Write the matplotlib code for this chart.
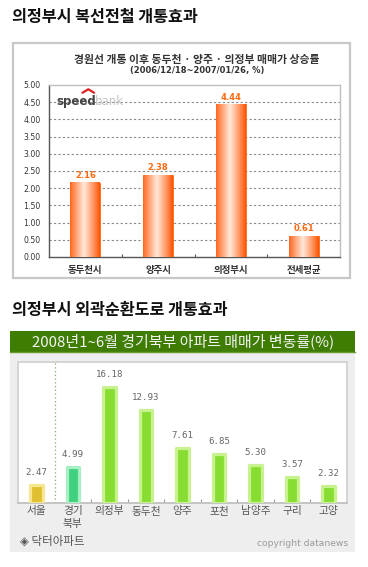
import numpy as np
import matplotlib
matplotlib.use('Agg')
import matplotlib.pyplot as plt
from matplotlib.colors import to_rgb
from matplotlib.patches import Rectangle
from matplotlib.lines import Line2D

plt.rcParams['font.family'] = ['Noto Sans CJK KR', 'DejaVu Sans']

# ---------------- data ----------------
title1 = '의정부시 복선전철 개통효과'
chart1_title = '경원선 개통 이후 동두천 · 양주 · 의정부 매매가 상승률'
chart1_sub = '(2006/12/18~2007/01/26, %)'
cats1 = ['동두천시', '양주시', '의정부시', '전세평균']
vals1 = [2.16, 2.38, 4.44, 0.61]
yticks1 = [0.0, 0.5, 1.0, 1.5, 2.0, 2.5, 3.0, 3.5, 4.0, 4.5, 5.0]

title2 = '의정부시 외곽순환도로 개통효과'
chart2_title = '2008년1~6월 경기북부 아파트 매매가 변동률(%)'
cats2 = ['서울', '경기\n북부', '의정부', '동두천', '양주', '포천', '남양주', '구리', '고양']
vals2 = [2.47, 4.99, 16.18, 12.93, 7.61, 6.85, 5.30, 3.57, 2.32]
source2 = '◈ 닥터아파트'
copyright2 = 'copyright datanews'

# ---------------- figure ----------------
W, H = 368, 567
fig = plt.figure(figsize=(W / 100, H / 100), dpi=100)
fig.patch.set_facecolor('white')

def rect(x0, y0, x1, y1):
    return [x0 / W, 1 - y1 / H, (x1 - x0) / W, (y1 - y0) / H]

base = fig.add_axes([0, 0, 1, 1], zorder=0)
base.set_xlim(0, W)
base.set_ylim(H, 0)
base.axis('off')

# ---------- top section ----------
base.text(12, 17, title1, fontsize=11.7, fontweight='bold', color='#111111',
          ha='left', va='center')
base.add_patch(Rectangle((13, 43), 337, 235, facecolor='white',
                         edgecolor='#c8c8c8', lw=1.6))
base.text(197, 60, chart1_title, fontsize=7.8, fontweight='bold',
          color='#333333', ha='center', va='center')
base.text(197, 71, chart1_sub, fontsize=6.0, fontweight='bold',
          color='#333333', ha='center', va='center', family='DejaVu Sans')

ax1 = fig.add_axes(rect(49, 85, 340, 257), zorder=2)
x1 = np.arange(len(cats1))
ax1.set_xlim(-0.5, len(cats1) - 0.5)
ax1.set_ylim(yticks1[0], yticks1[-1])

# background gradient
g = np.linspace(1.0, 0.76, 128)
bg = np.dstack([g, g, g])[:, :1, :].repeat(2, axis=1)
ax1.imshow(bg, extent=[-0.5, len(cats1) - 0.5, yticks1[0], yticks1[-1]],
           aspect='auto', zorder=0, interpolation='bilinear')

for yv in yticks1[1:-1]:
    ax1.axhline(yv, color='#8a8a8a', lw=0.8, dashes=(2.0, 2.0), zorder=1)

bars1 = ax1.bar(x1, vals1, width=0.41, color='#ff6a1a', edgecolor='#ff5a00',
                lw=0.5, zorder=3)
orange = np.array(to_rgb('#ff5200'))
light = np.array(to_rgb('#ffe8d8'))
t = np.linspace(0, 1, 80)
wgt = np.clip(1 - np.abs(t - 0.47) / 0.53, 0, 1) ** 0.9
grad = orange[None, :] + (light - orange)[None, :] * wgt[:, None]
grad = grad[None, :, :]
for b, v in zip(bars1, vals1):
    x0 = b.get_x()
    ax1.imshow(grad, extent=[x0, x0 + b.get_width(), 0, b.get_height()],
               aspect='auto', zorder=4, interpolation='bilinear')
    ax1.text(b.get_x() + b.get_width() / 2, v + 0.08, f'{v:.2f}',
             ha='center', va='bottom', fontsize=6, fontweight='bold',
             color='#ff6a10', family='DejaVu Sans', zorder=5)
ax1.set_xlim(-0.5, len(cats1) - 0.5)
ax1.set_ylim(yticks1[0], yticks1[-1])

ax1.set_yticks(yticks1)
ax1.set_yticklabels([f'{v:.2f}' for v in yticks1], family='DejaVu Sans',
                    fontsize=5.6, color='#333333')
ax1.tick_params(axis='y', length=0, pad=6)
ax1.set_xticks(x1)
ax1.set_xticklabels(cats1, fontsize=6.8, fontweight='bold', color='#333333')
ax1.tick_params(axis='x', length=0, pad=6)
ax1.set_xticks(np.arange(0.5, len(cats1) - 0.5, 1.0), minor=True)
ax1.tick_params(axis='x', which='minor', length=2.5, width=0.8,
                color='#555555', direction='in')
for s in ['left', 'bottom']:
    ax1.spines[s].set_color('#555555')
    ax1.spines[s].set_linewidth(1.0)
for s in ['top', 'right']:
    ax1.spines[s].set_color('#c0c0c0')
    ax1.spines[s].set_linewidth(1.0)

# speedbank logo
ax1.text(0.025, 0.905, 'speed', transform=ax1.transAxes, fontsize=8.5,
         fontweight='bold', color='#444444', family='DejaVu Sans',
         ha='left', va='center', zorder=6)
ax1.text(0.158, 0.905, 'bank', transform=ax1.transAxes, fontsize=8.5,
         color='#c4c4c4', family='DejaVu Sans', ha='left', va='center',
         zorder=6)
ax1.add_line(Line2D([0.115, 0.135, 0.155], [0.955, 0.975, 0.955],
                    transform=ax1.transAxes, color='#e02020', lw=1.6,
                    solid_capstyle='round', zorder=6))

# ---------- bottom section ----------
base.text(12, 310, title2, fontsize=11.7, fontweight='bold', color='#111111',
          ha='left', va='center')
base.add_patch(Rectangle((10, 352), 345, 200, facecolor='#eeeeee',
                         edgecolor='none'))
base.add_patch(Rectangle((10, 331), 345, 21, facecolor='#3e7d02',
                         edgecolor='none'))
base.add_line(Line2D([10, 355], [351.5, 351.5], color='#6a9a30', lw=1.0))
base.text(183, 341.5, chart2_title, fontsize=10.8, color='#f4f4f4',
          ha='center', va='center')
base.text(20, 541, source2, fontsize=8.3, color='#555555', ha='left',
          va='center')
base.text(348, 543, copyright2, fontsize=6.6, color='#9a9a9a', ha='right',
          va='center', family='DejaVu Sans')

ax2 = fig.add_axes(rect(18, 362, 347, 503), zorder=2)
ax2.set_facecolor('white')
x2 = np.arange(len(cats2))
ax2.set_xlim(-0.5, len(cats2) - 0.5)
ax2.set_ylim(0, 19.6)

inner_cols = ['#e0bf30', '#3fd17f'] + ['#88dd33'] * 7
outer_cols = ['#f6e690', '#a8efc4'] + ['#c8f290'] * 7
for xi, v, ic, oc in zip(x2, vals2, inner_cols, outer_cols):
    ax2.bar(xi, v, width=0.345, color=ic, edgecolor=oc, lw=2.3,
            joinstyle='round', zorder=3)
    ax2.text(xi, v + 1.1, f'{v:.2f}', ha='center', va='bottom',
             fontsize=6.6, color='#666666', family='DejaVu Sans Mono',
             zorder=4)

ax2.axvline(0.5, color='#88aa66', lw=0.9, ls=(0, (1, 2)), zorder=2)
ax2.set_xticks(x2)
ax2.set_xticklabels(cats2, fontsize=7.7, color='#555555', linespacing=1.35,
                    va='top')
ax2.tick_params(axis='x', length=0, pad=2.5)
ax2.set_xticks(np.arange(1.5, len(cats2) - 0.5, 1.0), minor=True)
ax2.tick_params(axis='x', which='minor', length=3, width=0.8,
                color='#999999', direction='in')
ax2.set_yticks([])
for s in ax2.spines.values():
    s.set_color('#d4d4d4')
    s.set_linewidth(1.4)
ax2.spines['bottom'].set_color('#c4c4c4')

fig.savefig('out.png', dpi=100, facecolor='white')
